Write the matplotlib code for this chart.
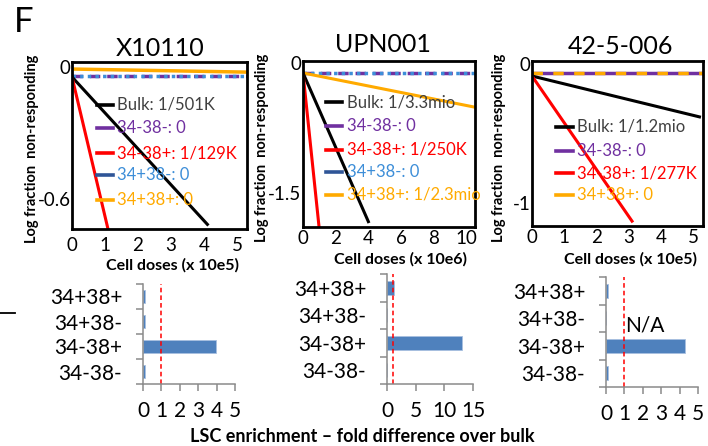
import matplotlib
matplotlib.use('Agg')
import matplotlib.pyplot as plt
from matplotlib.lines import Line2D

plt.rcParams['font.family'] = ['Lato', 'DejaVu Sans']

W, H = 708, 446
fig = plt.figure(figsize=(7.08, 4.46), dpi=100)

# ---------------- data ----------------
titles = ["X10110", "UPN001", "42-5-006"]
top_xlabels = ["Cell doses (x 10e5)", "Cell doses (x 10e6)", "Cell doses (x 10e5)"]

# Panel 1 (X10110)
p1_bulk_x = [0, 4.1];   p1_bulk_y = [-0.045, -0.715]
p1_m38p_x = [0, 1.09];  p1_m38p_y = [-0.045, -0.736]
p1_m38m_x = [0, 5.3];   p1_m38m_y = [-0.041, -0.041]
p1_p38m_x = [0, 5.3];   p1_p38m_y = [-0.041, -0.041]
p1_p38p_x = [0, 5.3];   p1_p38p_y = [-0.009, -0.023]
p1_yticks = [0, -0.6];  p1_yticklabels = ["0", "-0.6"]
p1_xticks = [0, 1, 2, 3, 4, 5]
p1_legend = ["Bulk: 1/501K", "34-38-: 0", "34-38+: 1/129K", "34+38-: 0", "34+38+: 0"]

# Panel 2 (UPN001)
p2_bulk_x = [0, 3.99];  p2_bulk_y = [-0.115, -1.83]
p2_m38p_x = [0, 0.98];  p2_m38p_y = [-0.115, -1.892]
p2_m38m_x = [0, 10.5];  p2_m38m_y = [-0.115, -0.115]
p2_p38m_x = [0, 10.5];  p2_p38m_y = [-0.115, -0.115]
p2_p38p_x = [0, 10.5];  p2_p38p_y = [-0.115, -0.51]
p2_yticks = [0, -1.5];  p2_yticklabels = ["0", "-1.5"]
p2_xticks = [0, 2, 4, 6, 8, 10]
p2_legend = ["Bulk: 1/3.3mio", "34-38-: 0", "34-38+: 1/250K", "34+38-: 0", "34+38+: 1/2.3mio"]

# Panel 3 (42-5-006)
p3_bulk_x = [0, 5.19];  p3_bulk_y = [-0.086, -0.38]
p3_m38p_x = [0, 3.1];   p3_m38p_y = [-0.086, -1.13]
p3_m38m_x = [0, 5.3];   p3_m38m_y = [-0.065, -0.065]
p3_p38p_x = [0, 5.3];   p3_p38p_y = [-0.065, -0.065]
p3_yticks = [0, -1];    p3_yticklabels = ["0", "-1"]
p3_xticks = [0, 1, 2, 3, 4, 5]
p3_legend = ["Bulk: 1/1.2mio", "34-38-: 0", "34-38+: 1/277K", "34+38+: 0"]

# Bottom bar charts (bottom -> top)
bar_categories = ["34-38-", "34-38+", "34+38-", "34+38+"]
p1_enrich = [0.1, 3.95, 0.1, 0.1]
p2_enrich = [0, 13.1, 0, 1.25]
p3_enrich = [0.1, 4.28, 0, 0.1]
p1_bar_xticks = [0, 1, 2, 3, 4, 5]
p2_bar_xticks = [0, 5, 10, 15]
p3_bar_xticks = [0, 1, 2, 3, 4, 5]
bulk_ref = 1
na_label = "N/A"
bottom_xlabel = "LSC enrichment \u2013 fold difference over bulk"

# ---------------- styles ----------------
C_BULK = 'black'
C_PURPLE = '#7030a0'
C_RED = '#ff0000'
C_NAVY = '#2f5597'
C_BLUE = '#3d8ed8'
C_ORANGE = '#ffaa00'
T_BULK = '#404040'
GRAY = '#8a8a8a'
BAR_C = '#4f81bd'

FS_TICK_TOP = 13.5
FS_LEG = 12
FS_XLAB = 11.5
FS_YLAB = 10.5
FS_CAT = 15
FS_BARTICK = 15
FS_BOTTOM = 13


def px_axes(l, t, r, b):
    return fig.add_axes([l / W, 1 - b / H, (r - l) / W, (b - t) / H])


def style_top(ax, xlim, ylim, xticks, yticks, yticklabels, xpad):
    ax.set_xlim(*xlim)
    ax.set_ylim(*ylim)
    ax.set_xticks(xticks)
    ax.set_yticks(yticks)
    ax.set_yticklabels(yticklabels)
    ax.tick_params(axis='both', length=0, labelsize=FS_TICK_TOP)
    ax.tick_params(axis='x', pad=xpad)
    ax.tick_params(axis='y', pad=1)
    for s in ax.spines.values():
        s.set_linewidth(2.0)
        s.set_color('black')


def draw_legend(ax, entries, hx0, hx1, tx, ys):
    for (label, hcolor, tcolor), y in zip(entries, ys):
        ax.add_line(Line2D([hx0, hx1], [y, y], transform=ax.transAxes,
                           color=hcolor, lw=2.6, clip_on=False))
        ax.text(tx, y, label, transform=ax.transAxes, color=tcolor,
                fontsize=FS_LEG, va='center', ha='left')


# ---------------- top panels ----------------
LW = 2.2
# Panel 1
ax1 = px_axes(72, 62, 247, 229)
ax1.plot(p1_m38m_x, p1_m38m_y, color=C_PURPLE, lw=2.5, dashes=(3, 2))
ax1.plot(p1_p38m_x, p1_p38m_y, color=C_BLUE, lw=2.5, dashes=(1, 1.2))
ax1.plot(p1_p38p_x, p1_p38p_y, color=C_ORANGE, lw=2.5)
ax1.plot(p1_bulk_x, p1_bulk_y, color=C_BULK, lw=LW)
ax1.plot(p1_m38p_x, p1_m38p_y, color=C_RED, lw=LW)
style_top(ax1, (0, 5.3), (-0.736, 0.023), p1_xticks, p1_yticks, p1_yticklabels, 6)
draw_legend(ax1, [(p1_legend[0], C_BULK, T_BULK), (p1_legend[1], C_PURPLE, C_PURPLE),
                  (p1_legend[2], C_RED, C_RED), (p1_legend[3], C_NAVY, C_BLUE),
                  (p1_legend[4], C_ORANGE, C_ORANGE)],
            0.143, 0.234, 0.258, [0.743, 0.605, 0.455, 0.323, 0.174])

# Panel 2
ax2 = px_axes(303, 61, 475, 227)
ax2.plot(p2_m38m_x, p2_m38m_y, color=C_PURPLE, lw=2.5, dashes=(3, 2))
ax2.plot(p2_p38m_x, p2_p38m_y, color=C_BLUE, lw=2.5, dashes=(1, 1.2))
ax2.plot(p2_p38p_x, p2_p38p_y, color=C_ORANGE, lw=LW)
ax2.plot(p2_bulk_x, p2_bulk_y, color=C_BULK, lw=LW)
ax2.plot(p2_m38p_x, p2_m38p_y, color=C_RED, lw=LW)
style_top(ax2, (0, 10.5), (-1.892, 0.023), p2_xticks, p2_yticks, p2_yticklabels, 2)
draw_legend(ax2, [(p2_legend[0], C_BULK, T_BULK), (p2_legend[1], C_PURPLE, C_PURPLE),
                  (p2_legend[2], C_RED, C_RED), (p2_legend[3], C_NAVY, C_BLUE),
                  (p2_legend[4], C_ORANGE, C_ORANGE)],
            0.134, 0.227, 0.256, [0.753, 0.608, 0.464, 0.331, 0.193])

# Panel 3
ax3 = px_axes(532, 61, 703, 226)
ax3.plot(p3_m38m_x, p3_m38m_y, color=C_PURPLE, lw=2.5)
ax3.plot(p3_p38p_x, p3_p38p_y, color=C_ORANGE, lw=2.5, dashes=(3, 3))
ax3.plot(p3_bulk_x, p3_bulk_y, color=C_BULK, lw=LW)
ax3.plot(p3_m38p_x, p3_m38p_y, color=C_RED, lw=LW)
style_top(ax3, (0, 5.3), (-1.165, 0.022), p3_xticks, p3_yticks, p3_yticklabels, 2)
draw_legend(ax3, [(p3_legend[0], C_BULK, T_BULK), (p3_legend[1], C_PURPLE, C_PURPLE),
                  (p3_legend[2], C_RED, C_RED), (p3_legend[3], C_ORANGE, C_ORANGE)],
            0.14, 0.24, 0.263, [0.6, 0.455, 0.321, 0.188])

# titles and labels
for t, (x, y) in zip(titles, [(160, 49), (383, 45), (620, 47)]):
    fig.text(x / W, 1 - y / H, t, ha='center', va='center', fontsize=18)
for t, (x, y) in zip(top_xlabels, [(172, 265), (400, 259), (630, 259)]):
    fig.text(x / W, 1 - y / H, t, ha='center', va='center', fontsize=FS_XLAB, fontweight='bold')
for (x, y) in [(32, 149), (262, 148), (499, 148)]:
    fig.text(x / W, 1 - y / H, "Log fraction  non-responding", ha='center', va='center',
             rotation=90, fontsize=FS_YLAB, fontweight='bold')
fig.text(24 / W, 1 - 22 / H, "F", ha='center', va='center', fontsize=25)

# ---------------- bottom bar charts ----------------
def style_bar(ax, xlim, ylim, xticks):
    ax.set_xlim(*xlim)
    ax.set_ylim(*ylim)
    ax.set_xticks(xticks)
    ax.set_yticks(range(len(bar_categories)))
    ax.set_yticklabels(bar_categories)
    ax.set_yticks([i - 0.5 for i in range(len(bar_categories) + 1)], minor=True)
    ax.tick_params(axis='y', which='major', length=0, pad=15, labelsize=FS_CAT)
    ax.tick_params(axis='y', which='minor', length=5, width=1.1, color=GRAY, direction='out')
    ax.tick_params(axis='x', length=5, width=1.1, color=GRAY, direction='out', pad=7,
                   labelsize=FS_BARTICK)
    for side in ['top', 'right']:
        ax.spines[side].set_visible(False)
    for side in ['left', 'bottom']:
        ax.spines[side].set_color(GRAY)
        ax.spines[side].set_linewidth(1.1)
    ax.axvline(bulk_ref, color=C_RED, lw=1.1, dashes=(3, 2))


ypos = list(range(len(bar_categories)))
b1 = px_axes(143, 284, 235, 384)
b1.barh(ypos, p1_enrich, height=0.5, color=BAR_C, edgecolor='#a8c0e0', linewidth=0.6)
style_bar(b1, (0, 5), (-0.5, 3.13), p1_bar_xticks)

b2 = px_axes(387, 274, 473, 384)
b2.barh(ypos, p2_enrich, height=0.5, color=BAR_C, edgecolor='#a8c0e0', linewidth=0.6)
style_bar(b2, (0, 15), (-0.5, 3.5), p2_bar_xticks)

b3 = px_axes(606, 277, 698, 387)
b3.barh(ypos, p3_enrich, height=0.5, color=BAR_C, edgecolor='#a8c0e0', linewidth=0.6)
style_bar(b3, (0, 5), (-0.5, 3.5), p3_bar_xticks)
b3.text(2.1, 1.75, na_label, ha='center', va='center', fontsize=FS_BARTICK)

fig.text(362 / W, 1 - 437 / H, bottom_xlabel, ha='center', va='center',
         fontsize=FS_BOTTOM, fontweight='bold')

# stray dash at left edge
fig.add_artist(Line2D([0 / W, 15 / W], [1 - 313 / H, 1 - 313 / H], color='black', lw=1.3))

fig.savefig('out.png', dpi=100)
